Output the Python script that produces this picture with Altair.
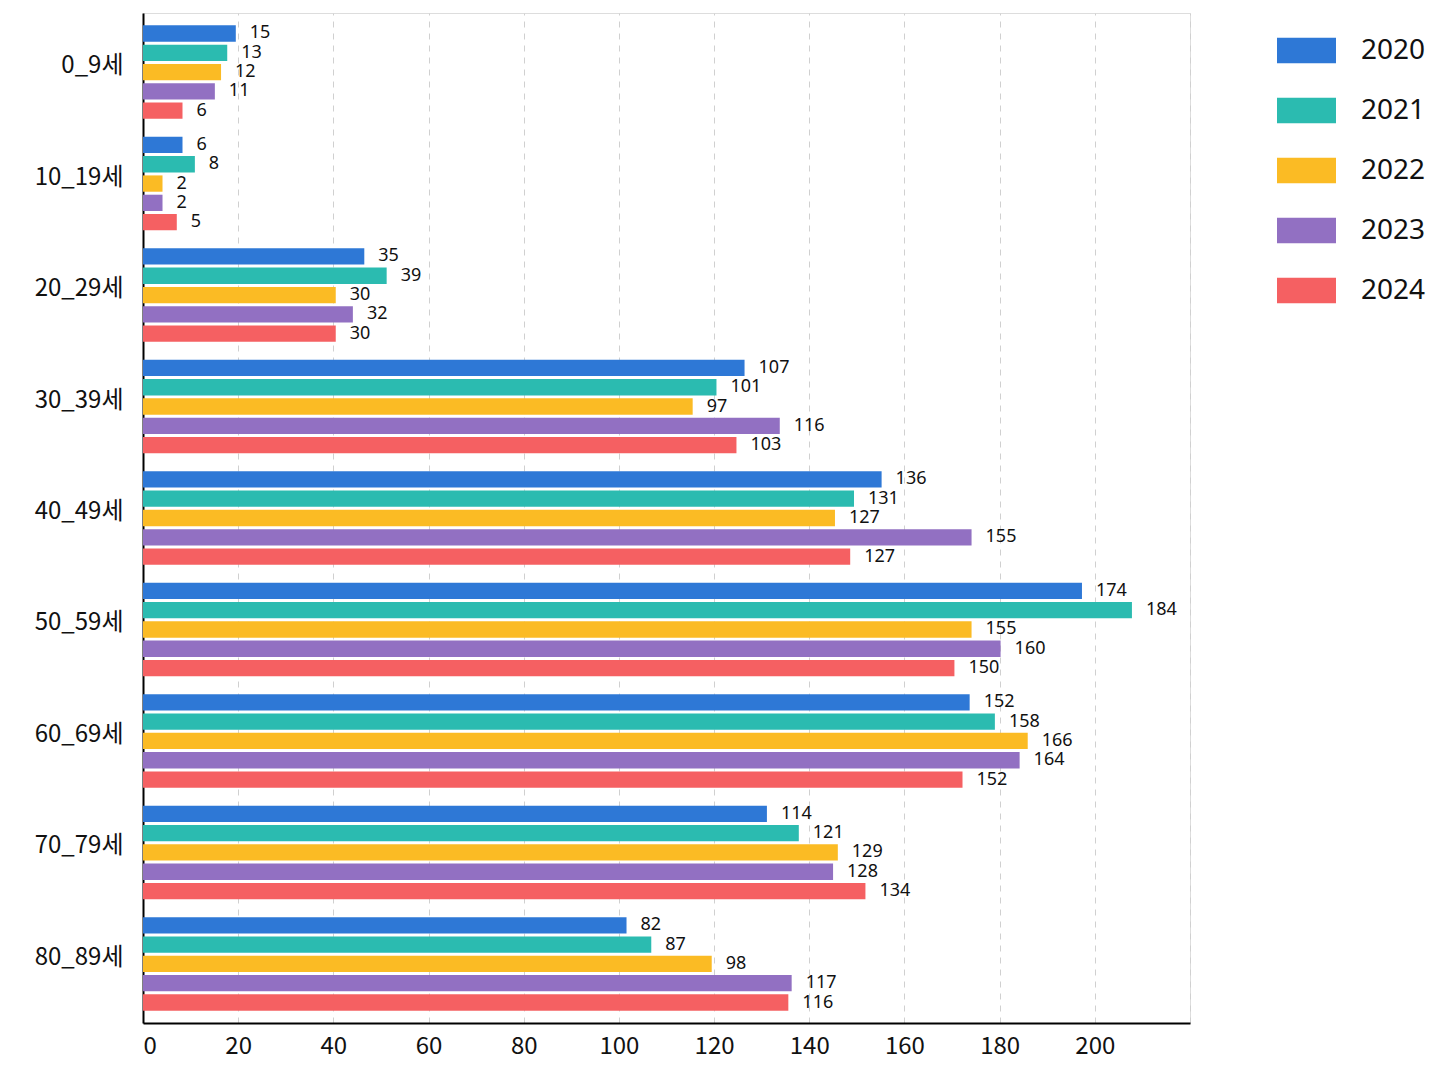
import altair as alt
import pandas as pd

ages = ["0_9세", "10_19세", "20_29세", "30_39세", "40_49세",
        "50_59세", "60_69세", "70_79세", "80_89세"]
years = ["2020", "2021", "2022", "2023", "2024"]
colors = ["#2e78d6", "#2bbbb0", "#fbbb24", "#9270c2", "#f56062"]

# value labels printed next to each bar
labels_2020 = [15, 6, 35, 107, 136, 174, 152, 114, 82]
labels_2021 = [13, 8, 39, 101, 131, 184, 158, 121, 87]
labels_2022 = [12, 2, 30, 97, 127, 155, 166, 129, 98]
labels_2023 = [11, 2, 32, 116, 155, 160, 164, 128, 117]
labels_2024 = [6, 5, 30, 103, 127, 150, 152, 134, 116]

# bar lengths as read against the x axis of the picture
bar_2020 = [19.5, 8.3, 46.5, 126.4, 155.2, 197.3, 173.7, 131.1, 101.6]
bar_2021 = [17.7, 10.9, 51.2, 120.5, 149.4, 207.8, 179.0, 137.8, 106.8]
bar_2022 = [16.4, 4.1, 40.5, 115.5, 145.4, 174.1, 185.9, 146.0, 119.5]
bar_2023 = [15.1, 4.1, 44.1, 133.8, 174.1, 180.2, 184.2, 145.0, 136.3]
bar_2024 = [8.3, 7.1, 40.5, 124.7, 148.6, 170.5, 172.2, 151.8, 135.6]

x_ticks = [0, 20, 40, 60, 80, 100, 120, 140, 160, 180, 200, 220]

label_lists = [labels_2020, labels_2021, labels_2022, labels_2023, labels_2024]
bar_lists = [bar_2020, bar_2021, bar_2022, bar_2023, bar_2024]

rows = []
for yi, yr in enumerate(years):
    for ai, ag in enumerate(ages):
        rows.append({"age": ag, "year": yr,
                     "label": str(label_lists[yi][ai]),
                     "bar": bar_lists[yi][ai]})
df = pd.DataFrame(rows)

axis_font = "Noto Sans CJK KR, Noto Sans, sans-serif"

base = alt.Chart(df).encode(
    y=alt.Y("age:N", sort=ages,
            scale=alt.Scale(paddingInner=0, paddingOuter=0.03),
            axis=alt.Axis(title=None, ticks=False, grid=False,
                          domainColor="#000000", domainWidth=2,
                          labelFont=axis_font, labelFontSize=24,
                          labelColor="#111111", labelPadding=20,
                          labelOffset=-6)),
    yOffset=alt.YOffset("year:N", sort=years,
                        scale=alt.Scale(paddingInner=0.155, paddingOuter=0.466)),
)

bars = base.mark_bar().encode(
    x=alt.X("bar:Q",
            scale=alt.Scale(domain=[0, 220], nice=False),
            axis=alt.Axis(title=None, values=x_ticks, ticks=False,
                          labelExpr="datum.value >= 220 ? '' : datum.label",
                          grid=True, gridDash=[6, 6], gridColor="#d0d0d0",
                          gridWidth=1, domainColor="#000000", domainWidth=2,
                          labelFont=axis_font, labelFontSize=24,
                          labelColor="#111111", labelPadding=11)),
    color=alt.Color("year:N", sort=years,
                    scale=alt.Scale(domain=years, range=colors),
                    legend=alt.Legend(
                        title=None, orient="none", legendX=1134, legendY=8,
                        padding=0,
                        symbolType="M-1,-0.435L1,-0.435L1,0.435L-1,0.435Z",
                        symbolSize=3481, symbolStrokeWidth=0,
                        symbolOpacity=1,
                        labelFont="Noto Sans", labelFontSize=28,
                        labelColor="#111111", labelOffset=25,
                        rowPadding=16)),
)

text = base.mark_text(align="left", baseline="middle", dx=14,
                      font="Noto Sans", fontSize=18, color="#111111").encode(
    x=alt.X("bar:Q"),
    text=alt.Text("label:N"),
)

chart = alt.layer(bars, text).properties(
    width=1047, height=1010,
    padding={"left": 135, "top": 5, "right": 250, "bottom": 50},
    autosize=alt.AutoSizeParams(type="none"),
).configure_view(stroke=None).configure(background="white")

chart.save("out.html", embed_options={"renderer": "svg", "actions": False})
